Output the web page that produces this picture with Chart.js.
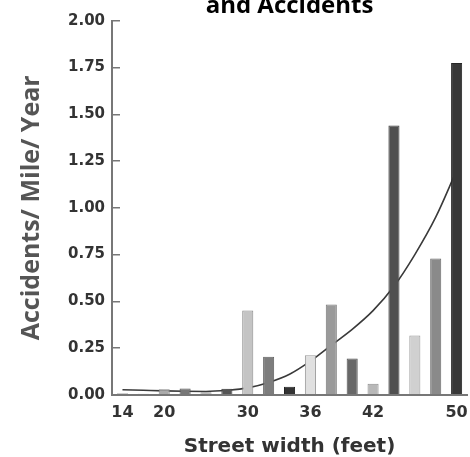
<!DOCTYPE html>
<html>
<head>
<meta charset="utf-8">
<script src="https://cdn.jsdelivr.net/npm/chart.js@4/dist/chart.umd.min.js"></script>
<style>
  html, body { margin: 0; padding: 0; background: #fff; overflow: hidden; }
  #wrap { position: absolute; left: 0; top: -8px; width: 476px; height: 467px; }
</style>
</head>
<body>
<div id="wrap"><canvas id="widthChart"></canvas></div>
<script>
// one bar per street width class, only some classes are labelled on the axis
const widthLabels = ['14', '', '20', '', '', '', '30', '', '', '36', '', '', '42', '', '', '', '50'];
const accidentRate = [0.007, 0.006, 0.030, 0.034, 0.014, 0.032, 0.451, 0.203, 0.043, 0.212, 0.483, 0.194, 0.059, 1.44, 0.317, 0.729, 1.774];
const trendRate = [0.027, 0.024, 0.021, 0.019, 0.018, 0.024, 0.037, 0.066, 0.11, 0.18, 0.265, 0.35, 0.45, 0.58, 0.75, 0.95, 1.2];

const barFills = ['#444', '#999', '#aaa', '#777', '#bbb', '#555', '#c4c4c4', '#7d7d7d', '#333', '#e0e0e0', '#9a9a9a', '#686868', '#b8b8b8', '#505050', '#d0d0d0', '#8a8a8a', '#383838'];
const barEdges = ['#333', '#777', '#888', '#555', '#999', '#444', '#888', '#5f5f5f', '#222', '#999', '#777', '#4f4f4f', '#8f8f8f', '#3c3c3c', '#999', '#6a6a6a', '#262626'];

const openSans = "'Open Sans', sans-serif";
const dejaVu = "'DejaVu Sans', sans-serif";

function renderWidthChart() {
  const ctx = document.getElementById('widthChart');

  new Chart(ctx, {
    data: {
      labels: widthLabels,
      datasets: [
        {
          type: 'bar',
          data: accidentRate,
          backgroundColor: barFills,
          borderColor: barEdges,
          borderWidth: 1,
          barPercentage: 0.53,
          categoryPercentage: 1,
          order: 1,
        },
        {
          type: 'line',
          data: trendRate,
          borderColor: '#3a3a3a',
          borderWidth: 1.6,
          pointRadius: 0,
          cubicInterpolationMode: 'monotone',
          fill: false,
          order: 2,
        },
      ],
    },
    options: {
      responsive: true,
      maintainAspectRatio: false,
      animation: false,
      layout: { padding: { left: 12, right: 3, top: 0, bottom: 0 } },
      plugins: {
        legend: { display: false },
        tooltip: { enabled: false },
        title: {
          display: true,
          text: 'and Accidents',
          fullSize: false,
          color: '#000',
          font: { family: openSans, weight: 'bold', size: 24 },
          padding: { top: 0, bottom: 0 },
        },
      },
      scales: {
        x: {
          grid: { display: false, drawTicks: false },
          border: { display: true, color: '#777', width: 2 },
          ticks: {
            autoSkip: false,
            maxRotation: 0,
            padding: 8,
            color: '#333',
            font: { family: dejaVu, weight: 'bold', size: 16 },
          },
          title: {
            display: true,
            text: 'Street width (feet)',
            color: '#333',
            font: { family: dejaVu, weight: 'bold', size: 20 },
            padding: { top: 5, bottom: 0 },
          },
        },
        y: {
          min: 0,
          max: 2,
          grid: {
            drawOnChartArea: false,
            drawTicks: true,
            tickLength: -8,
            color: '#777',
            lineWidth: 1.5,
          },
          border: { display: true, color: '#777', width: 2 },
          ticks: {
            stepSize: 0.25,
            padding: 15,
            color: '#333',
            font: { family: dejaVu, weight: 'bold', size: 15 },
            callback: (value) => value.toFixed(2),
          },
          title: {
            display: true,
            text: 'Accidents/ Mile/ Year',
            color: '#555',
            font: { family: openSans, weight: 'bold', size: 25 },
            padding: { top: 5, bottom: 6 },
          },
        },
      },
    },
  });
}

document.addEventListener('DOMContentLoaded', renderWidthChart);
</script>
</body>
</html>
